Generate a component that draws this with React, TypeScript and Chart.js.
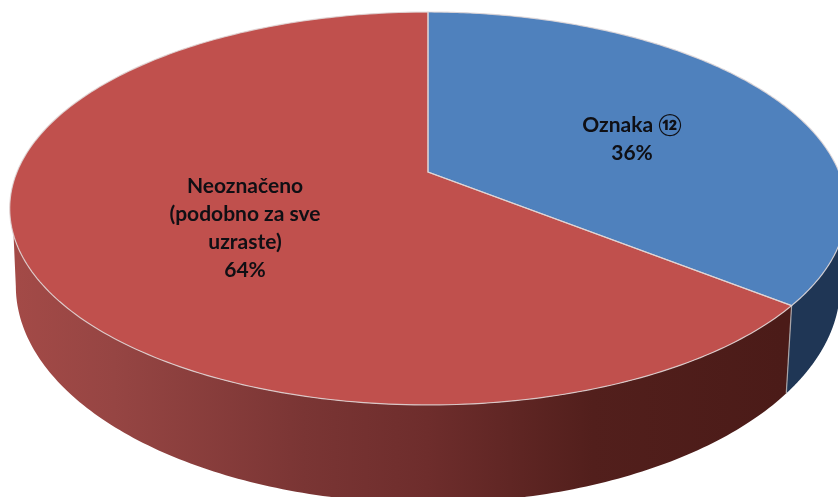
import React, { useEffect, useRef } from "react";
import { Chart, registerables } from "chart.js";

Chart.register(...registerables);

const categories = ["Oznaka ⑫", "Neoznačeno\n(podobno za sve\nuzraste)"];
const shareValues = [35.7, 64.3];
const topColors = ["#4f81bd", "#c0504d"];

const WIDTH = 838;
const HEIGHT = 497;
const CX = 428;
const K = 0.1857;
const topFace = { a: 411, b: 189.7, y0: 172 };
const baseFace = { a: 405, b: 209.5, y0: 245.8 };
const labelAnchors = [
  { x: 632, y: 132 },
  { x: 245, y: 193 },
];

type Face = { a: number; b: number; y0: number };

function project(face: Face, theta: number, r = 1) {
  const u = r * Math.cos(theta);
  const v = r * Math.sin(theta);
  const w = 1 - K * v;
  return { x: CX + (face.a * u) / w, y: face.y0 + (face.b * v) / w };
}

function sideGradient(ctx: CanvasRenderingContext2D, index: number) {
  const g = ctx.createLinearGradient(15, 0, 840, 0);
  if (index === 0) {
    g.addColorStop(0, "#1f3655");
    g.addColorStop(1, "#1f3655");
  } else {
    g.addColorStop(0, "#a34a47");
    g.addColorStop(0.12, "#964543");
    g.addColorStop(0.35, "#7a3534");
    g.addColorStop(0.5, "#6e2d2c");
    g.addColorStop(0.7, "#521f1c");
    g.addColorStop(0.93, "#4b1b18");
    g.addColorStop(1, "#4b1b18");
  }
  return g;
}

const pie3d = {
  id: "pie3d",
  beforeDatasetsDraw(chart: any) {
    const ctx: CanvasRenderingContext2D = chart.ctx;
    const arcs = chart.getDatasetMeta(0).data;

    // side walls
    arcs.forEach((arc: any, i: number) => {
      const topFrom = Math.max(arc.startAngle, 0.318);
      const topTo = Math.min(arc.endAngle, Math.PI - 0.318);
      const baseFrom = Math.max(arc.startAngle, 0.187);
      const baseTo = Math.min(arc.endAngle, Math.PI - 0.187);
      const steps = 160;
      ctx.beginPath();
      for (let s = 0; s <= steps; s++) {
        const p = project(topFace, topFrom + ((topTo - topFrom) * s) / steps);
        if (s === 0) ctx.moveTo(p.x, p.y);
        else ctx.lineTo(p.x, p.y);
      }
      for (let s = steps; s >= 0; s--) {
        const p = project(baseFace, baseFrom + ((baseTo - baseFrom) * s) / steps);
        ctx.lineTo(p.x, p.y);
      }
      ctx.closePath();
      ctx.fillStyle = sideGradient(ctx, i);
      ctx.fill();
    });

    // seam between the walls
    const seam = arcs[0].endAngle;
    const s1 = project(topFace, seam);
    const s2 = project(baseFace, seam);
    ctx.beginPath();
    ctx.moveTo(s1.x, s1.y);
    ctx.lineTo(s2.x, s2.y);
    ctx.strokeStyle = "#a9a5a8";
    ctx.lineWidth = 1.2;
    ctx.stroke();

    // top face
    const slicePath = (arc: any) => {
      const steps = 240;
      ctx.beginPath();
      ctx.moveTo(CX, topFace.y0);
      for (let s = 0; s <= steps; s++) {
        const p = project(topFace, arc.startAngle + ((arc.endAngle - arc.startAngle) * s) / steps);
        ctx.lineTo(p.x, p.y);
      }
      ctx.closePath();
    };
    arcs.forEach((arc: any, i: number) => {
      slicePath(arc);
      ctx.fillStyle = topColors[i];
      ctx.fill();
    });
    arcs.forEach((arc: any) => {
      slicePath(arc);
      ctx.strokeStyle = "rgba(225,215,215,0.85)";
      ctx.lineWidth = 1.2;
      ctx.stroke();
    });

    // labels
    const total = shareValues.reduce((a, b) => a + b, 0);
    ctx.fillStyle = "#0f0f14";
    ctx.textAlign = "center";
    ctx.textBaseline = "alphabetic";
    ctx.font = 'bold 21px Lato, "Noto Sans CJK JP", sans-serif';
    categories.forEach((name, i) => {
      const lines = [...name.split("\n"), `${Math.round((shareValues[i] / total) * 100)}%`];
      lines.forEach((line, n) => {
        ctx.fillText(line, labelAnchors[i].x, labelAnchors[i].y + n * 28);
      });
    });
    return false;
  },
};

export default function App() {
  const ref = useRef<HTMLCanvasElement>(null);
  useEffect(() => {
    const chart = new Chart(ref.current!, {
      type: "pie",
      data: {
        labels: categories,
        datasets: [{ data: shareValues, backgroundColor: topColors, borderWidth: 0 }],
      },
      options: {
        responsive: false,
        animation: false,
        layout: { padding: 0 },
        plugins: { legend: { display: false }, tooltip: { enabled: false } },
      },
      plugins: [pie3d],
    } as any);
    return () => chart.destroy();
  }, []);
  return (
    <div style={{ position: "absolute", left: 0, top: 0, width: WIDTH, height: HEIGHT, background: "#fff" }}>
      <canvas ref={ref} width={WIDTH} height={HEIGHT} style={{ display: "block" }} />
    </div>
  );
}
